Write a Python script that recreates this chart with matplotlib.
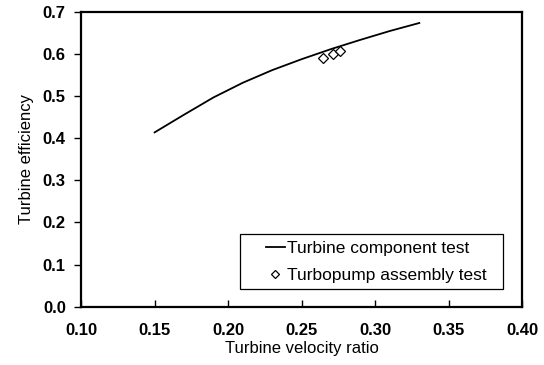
import matplotlib
matplotlib.use('Agg')
import matplotlib.pyplot as plt
from matplotlib.patches import Rectangle

# turbine component test curve
comp_x = [0.15, 0.17, 0.19, 0.21, 0.23, 0.25, 0.27, 0.29, 0.31, 0.33]
comp_y = [0.414, 0.456, 0.497, 0.532, 0.562, 0.588, 0.612, 0.634, 0.655, 0.674]

# turbopump assembly test points
pump_x = [0.2645, 0.2712, 0.2758]
pump_y = [0.5915, 0.5995, 0.607]

plt.rcParams['font.family'] = ['Liberation Sans', 'DejaVu Sans']

fig = plt.figure(figsize=(5.44, 3.65), dpi=100)
ax = fig.add_axes([0.149, 0.160, 0.811, 0.807])

ax.plot(comp_x, comp_y, color='black', lw=1.3, label='Turbine component test')
ax.plot(pump_x, pump_y, linestyle='none', marker='D', markersize=5,
        markerfacecolor='white', markeredgecolor='black', markeredgewidth=0.9,
        label='Turbopump assembly test')

ax.set_xlim(0.10, 0.40)
ax.set_ylim(0.0, 0.7)
ax.set_xticks([0.10, 0.15, 0.20, 0.25, 0.30, 0.35, 0.40])
ax.set_yticks([0.0, 0.1, 0.2, 0.3, 0.4, 0.5, 0.6, 0.7])
ax.set_xticklabels(['%.2f' % v for v in ax.get_xticks()])
ax.set_yticklabels(['%.1f' % v for v in ax.get_yticks()])
ax.tick_params(axis='x', direction='in', length=5, width=1, labelsize=12, pad=12)
ax.tick_params(axis='y', direction='out', length=5, width=1, labelsize=12, pad=6)
for lab in ax.get_xticklabels() + ax.get_yticklabels():
    lab.set_fontweight('bold')
for s in ax.spines.values():
    s.set_linewidth(1.6)

ax.set_xlabel('Turbine velocity ratio', fontsize=12, labelpad=2)
ax.set_ylabel('Turbine efficiency', fontsize=12, labelpad=6)

# legend box drawn separately so its frame can sit exactly where it is
ax.add_patch(Rectangle((0.36, 0.059), 0.597, 0.188, transform=ax.transAxes,
                       facecolor='white', edgecolor='black', lw=0.9, zorder=3))
leg = ax.legend(loc='center left', bbox_to_anchor=(0.419, 0.152),
                fontsize=12.5, frameon=False, handlelength=1.1,
                handletextpad=0.1, borderpad=0, labelspacing=0.65,
                borderaxespad=0, markerscale=0.9)
leg.set_zorder(4)

fig.savefig('out.png', dpi=100)
